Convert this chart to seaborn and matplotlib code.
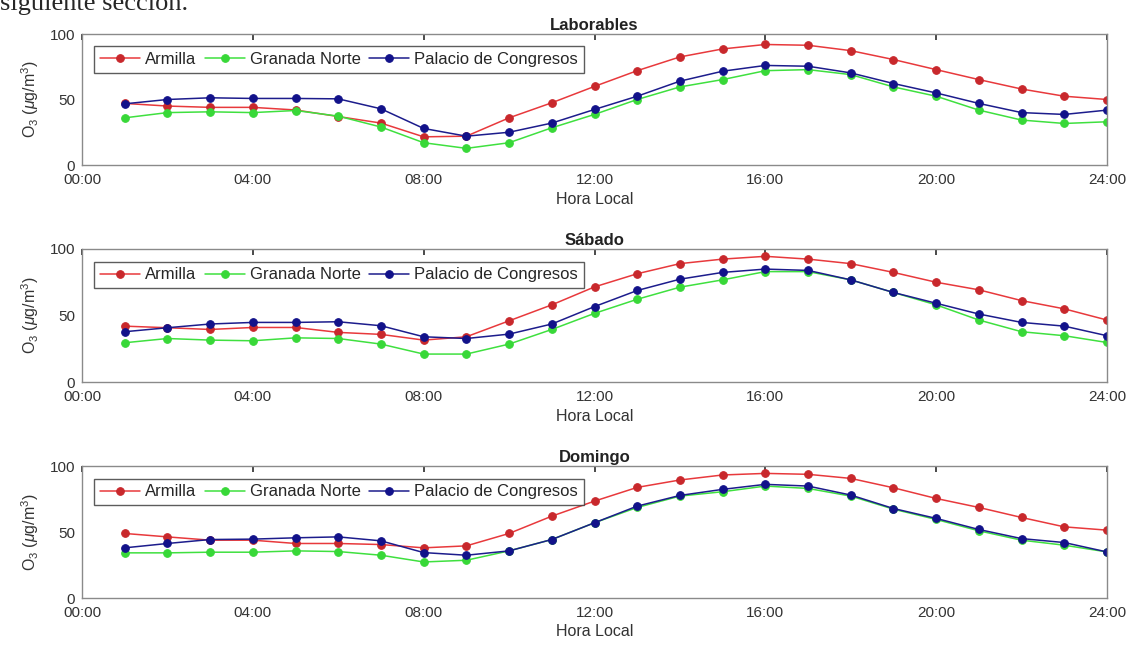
import matplotlib
matplotlib.use("Agg")
import matplotlib.pyplot as plt
import pandas as pd
import seaborn as sns

# --- datos (O3 en ug/m3, horas 1..24) ---
HOURS = list(range(1, 25))
STATIONS = ["Armilla", "Granada Norte", "Palacio de Congresos"]
PANELS = ["Laborables", "Sábado", "Domingo"]
TICK_HOURS = [0, 4, 8, 12, 16, 20, 24]
TICK_LABELS = ["00:00", "04:00", "08:00", "12:00", "16:00", "20:00", "24:00"]

laborables_armilla = [47, 45, 44, 44, 42, 37, 32, 21.5, 22, 36, 47.5, 60,
                      72, 82.5, 88.6, 92, 91.4, 87.3, 80.5, 72.8, 65.2, 58, 52.5, 50]
laborables_norte = [36, 40, 40.6, 40, 41.6, 37.3, 29, 17, 12.7, 17, 28.4, 38.6,
                    50, 59.6, 65.2, 72, 72.8, 69, 59.6, 52.5, 41.9, 34.3, 31.7, 33]
laborables_congresos = [46.7, 50, 51.3, 50.8, 50.8, 50.5, 42.9, 27.9, 22, 25, 32, 42.4,
                        52.5, 64, 71.6, 76, 75.4, 70.3, 62.2, 55, 47, 40, 38.6, 41.9]

sabado_armilla = [42, 40.8, 39.5, 41, 41, 37.3, 35.8, 31.5, 34, 46, 58, 71.5,
                  81.4, 89, 92.4, 94.5, 92.4, 89, 82.4, 75, 69.3, 61.2, 55, 46.6]
sabado_norte = [29.5, 32.7, 31.5, 31, 33.2, 32.7, 28.5, 21, 21, 28.5, 39.5, 51.6,
                62.2, 71.3, 76.8, 83, 83, 76.8, 67.3, 58, 46.6, 37.8, 34.8, 29.7]
sabado_congresos = [37.8, 40.8, 43.6, 44.8, 44.8, 45.3, 42.3, 34, 32.7, 36, 43.6, 56.7,
                    68.8, 77.3, 82.4, 84.9, 83.9, 76.8, 67.3, 59.2, 51.1, 44.8, 42, 34.8]

domingo_armilla = [48.9, 46.3, 43.8, 43.8, 41.3, 41.3, 40.5, 38, 39.5, 48.9, 62, 73.4,
                   83.8, 89.4, 93.2, 94.4, 93.7, 90.6, 83.5, 75.4, 68.6, 61, 53.9, 51.4]
domingo_norte = [34.2, 34.2, 34.7, 34.7, 35.7, 35.2, 32.4, 27.3, 28.6, 35.7, 44.3, 57,
                 68.6, 77.2, 80.5, 84.8, 83, 77.2, 67.3, 59.5, 50.9, 43.8, 40, 34.9]
domingo_congresos = [38, 41.3, 44.3, 44.6, 45.6, 46.3, 43.3, 34.4, 32.4, 35.7, 44.3, 57,
                     69.6, 77.7, 82.3, 86.1, 84.8, 78, 67.8, 60.3, 51.9, 45, 42, 34.9]

PANEL_DATA = {
    "Laborables": [laborables_armilla, laborables_norte, laborables_congresos],
    "Sábado": [sabado_armilla, sabado_norte, sabado_congresos],
    "Domingo": [domingo_armilla, domingo_norte, domingo_congresos],
}

LINE_COLORS = {"Armilla": "#e8393c", "Granada Norte": "#3fe03f",
               "Palacio de Congresos": "#1c1c8c"}
MARKER_COLORS = {"Armilla": "#c8282c", "Granada Norte": "#38d838",
                 "Palacio de Congresos": "#12128a"}

# posiciones de los ejes en píxeles (figura 1130x646)
FIG_W, FIG_H = 1130, 646
AX_X0, AX_X1 = 82, 1107
AX_TOPS = [34, 249, 466]
AX_BOTS = [165, 382, 598]


def build_frame(panel):
    rows = []
    for station, values in zip(STATIONS, PANEL_DATA[panel]):
        for h, v in zip(HOURS, values):
            rows.append({"hora": h, "o3": v, "estacion": station})
    return pd.DataFrame(rows)


def draw_panel(ax, panel):
    df = build_frame(panel)
    for station in STATIONS:
        sub = df[df["estacion"] == station]
        sns.lineplot(
            data=sub, x="hora", y="o3", ax=ax,
            color=LINE_COLORS[station], linewidth=1.1,
            marker="o", markersize=5.5,
            markerfacecolor=MARKER_COLORS[station],
            markeredgecolor=MARKER_COLORS[station],
            label=station,
        )
    ax.set_xlim(0, 24)
    ax.set_ylim(0, 100)
    ax.set_xticks(TICK_HOURS)
    ax.set_xticklabels(TICK_LABELS)
    ax.set_yticks([0, 50, 100])
    ax.tick_params(direction="in", length=4, top=True, right=False,
                   labelsize=11, colors="#333333")
    ax.tick_params(axis="x", pad=6)
    ax.tick_params(axis="y", pad=5)
    for sp in ax.spines.values():
        sp.set_color("#8a8a8a")
        sp.set_linewidth(1.0)
    ax.set_title(panel, fontsize=12, fontweight="bold", pad=3, color="#222222")
    ax.set_xlabel("Hora Local", fontsize=11.5, color="#333333", labelpad=3)
    ax.set_ylabel(r"O$_3$ ($\mu$g/m$^3$)", fontsize=11.5, color="#333333", labelpad=6)
    leg = ax.legend(loc="upper left", bbox_to_anchor=(0.012, 0.905), ncol=3,
                    fontsize=12, frameon=True, fancybox=False,
                    handlelength=2.4, handletextpad=0.3, columnspacing=0.5,
                    borderpad=0.35, borderaxespad=0.0)
    leg.get_frame().set_edgecolor("#333333")
    leg.get_frame().set_linewidth(1.0)


def main():
    sns.set_theme(style="white")
    plt.rcParams["font.family"] = ["Liberation Sans", "DejaVu Sans"]
    plt.rcParams["mathtext.fontset"] = "custom"
    plt.rcParams["mathtext.rm"] = "Liberation Sans"
    plt.rcParams["mathtext.it"] = "Liberation Sans:italic"

    fig = plt.figure(figsize=(FIG_W / 100, FIG_H / 100), dpi=100)
    fig.text(0.0, 1 - 10 / FIG_H, "siguiente sección.", fontsize=19,
             family=["Liberation Serif", "DejaVu Serif"], va="baseline", ha="left")

    for panel, top, bot in zip(PANELS, AX_TOPS, AX_BOTS):
        rect = [AX_X0 / FIG_W, 1 - bot / FIG_H,
                (AX_X1 - AX_X0) / FIG_W, (bot - top) / FIG_H]
        ax = fig.add_axes(rect)
        draw_panel(ax, panel)

    fig.savefig("out.png", dpi=100)
    plt.close(fig)


if __name__ == "__main__":
    main()
